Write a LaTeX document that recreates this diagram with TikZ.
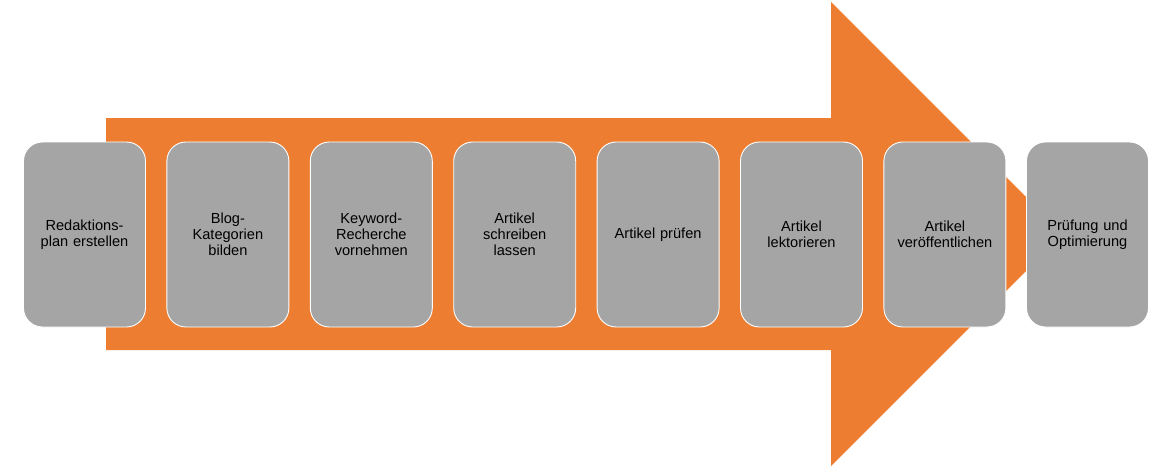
\documentclass[tikz,border=0pt]{standalone}
\usepackage{fontspec}
\setmainfont{Liberation Sans}
\definecolor{arroworange}{HTML}{ED7D31}
\definecolor{boxgray}{HTML}{A5A5A5}
\begin{document}
\begin{tikzpicture}[x=1pt,y=-1pt,
  stepbox/.style={draw=white,line width=0.9pt,fill=boxgray,rounded corners=19pt,
    minimum width=122pt,minimum height=185pt,inner sep=0pt,
    text width=116pt,align=center,font=\fontsize{14.6pt}{15.8pt}\selectfont,anchor=center}]
\useasboundingbox (0,0) rectangle (1171,474);
\fill[arroworange] (106,118) -- (831,118) -- (831,2) -- (1063,234) -- (831,466) -- (831,350) -- (106,350) -- cycle;
\node[stepbox] (b1) at (84.5,234.5) {Redaktions-\\plan erstellen};
\node[stepbox] (b2) at (227.9,234.5) {Blog-\\Kategorien\\bilden};
\node[stepbox] (b3) at (371.3,234.5) {Keyword-\\Recherche\\vornehmen};
\node[stepbox] (b4) at (514.7,234.5) {Artikel\\schreiben\\lassen};
\node[stepbox] (b5) at (658.1,234.5) {Artikel prüfen};
\node[stepbox] (b6) at (801.5,234.5) {Artikel\\lektorieren};
\node[stepbox] (b7) at (944.9,234.5) {Artikel\\veröffentlichen};
\node[stepbox] (b8) at (1087.5,234.5) {Prüfung und\\Optimierung};
\end{tikzpicture}
\end{document}
